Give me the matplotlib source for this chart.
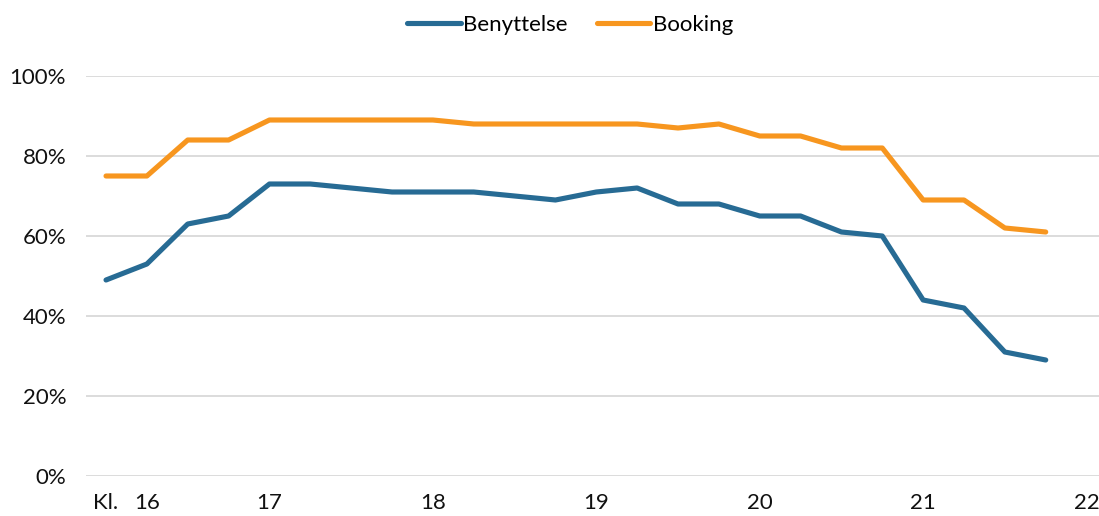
import matplotlib
matplotlib.use("Agg")
import matplotlib.pyplot as plt
from matplotlib.ticker import FuncFormatter

benyttelse = [49, 53, 63, 65, 73, 73, 72, 71, 71, 71, 70, 69, 71, 72, 68, 68, 65, 65, 61, 60, 44, 42, 31, 29]
booking = [75, 75, 84, 84, 89, 89, 89, 89, 89, 88, 88, 88, 88, 88, 87, 88, 85, 85, 82, 82, 69, 69, 62, 61]
tick_positions = [0, 1, 4, 8, 12, 16, 20, 24]
tick_labels = ["Kl.", "16", "17", "18", "19", "20", "21", "22"]
y_ticks = [0, 20, 40, 60, 80, 100]

plt.rcParams['font.family'] = ['Lato', 'DejaVu Sans']

W, H = 1099, 516
fig = plt.figure(figsize=(W / 100, H / 100), dpi=100)
x0, x1 = 85.6, 1107
y0, y1 = 476, 76
ax = fig.add_axes([x0 / W, (H - y0) / H, (x1 - x0) / W, (y0 - y1) / H])

xs = list(range(len(benyttelse)))
blue = "#276B94"
orange = "#F7961F"
ax.plot(xs, benyttelse, color=blue, lw=3.7, solid_capstyle='round', solid_joinstyle='round', label="Benyttelse", zorder=3)
ax.plot(xs, booking, color=orange, lw=3.7, solid_capstyle='round', solid_joinstyle='round', label="Booking", zorder=3)

ax.set_xlim(-0.5, 24.5)
ax.set_ylim(0, 100)
ax.set_yticks(y_ticks)
ax.yaxis.set_major_formatter(FuncFormatter(lambda v, p: f"{int(v)}%"))
ax.set_xticks(tick_positions)
ax.set_xticklabels(tick_labels)
ax.grid(axis='y', color="#D9D9D9", lw=1.3, zorder=0)
ax.grid(axis='x', visible=False)
for s in ax.spines.values():
    s.set_visible(False)
ax.tick_params(axis='both', length=0, labelsize=16, colors="#111111")
ax.tick_params(axis='x', pad=12)
ax.tick_params(axis='y', pad=14)

fig.legend(loc='center', bbox_to_anchor=(570 / W, 1 - 25 / H), ncol=2, frameon=False,
           fontsize=16, handlelength=2.4, handletextpad=0.12, columnspacing=1.3)

fig.savefig("out.png", dpi=100)
